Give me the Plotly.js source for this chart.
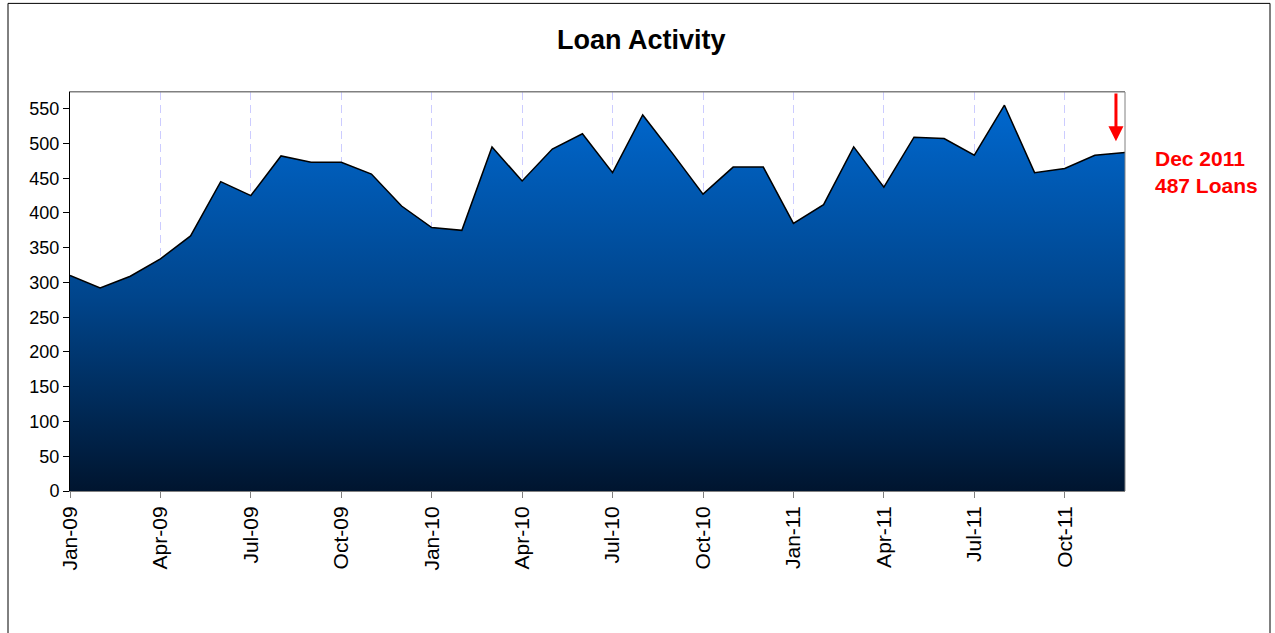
<!DOCTYPE html>
<html>
<head>
<meta charset="utf-8">
<script src="https://cdn.plot.ly/plotly-3.0.1.min.js"></script>
<style>
  html, body { margin: 0; padding: 0; background: #ffffff; }
  #chart { width: 1275px; height: 633px; }
</style>
</head>
<body>
<div id="chart"></div>
<script>
const months = [
  'Jan-09','Feb-09','Mar-09','Apr-09','May-09','Jun-09','Jul-09','Aug-09','Sep-09','Oct-09','Nov-09','Dec-09',
  'Jan-10','Feb-10','Mar-10','Apr-10','May-10','Jun-10','Jul-10','Aug-10','Sep-10','Oct-10','Nov-10','Dec-10',
  'Jan-11','Feb-11','Mar-11','Apr-11','May-11','Jun-11','Jul-11','Aug-11','Sep-11','Oct-11','Nov-11','Dec-11'
];
const loans = [
  310, 292, 309, 334, 367, 445, 425, 482, 473, 473, 456, 410,
  379, 375, 495, 446, 492, 514, 458, 541, 485, 427, 466, 466,
  385, 412, 495, 437, 509, 507, 483, 555, 458, 464, 483, 487
];
const tickLabels = ['Jan-09','Apr-09','Jul-09','Oct-09','Jan-10','Apr-10','Jul-10','Oct-10','Jan-11','Apr-11','Jul-11','Oct-11'];
const yTicks = [0,50,100,150,200,250,300,350,400,450,500,550];
const chartTitle = 'Loan Activity';
const calloutPeriod = 'Dec 2011';

const FONT = '"Liberation Sans", Arial, sans-serif';
const yMax = 574;
const lastIdx = loans.length - 1;
const lastVal = loans[lastIdx];

const trace = {
  type: 'scatter',
  mode: 'lines',
  x: months,
  y: loans,
  fill: 'tozeroy',
  fillgradient: {
    type: 'vertical',
    start: 0,
    stop: 560,
    colorscale: [[0, '#00152f'], [0.5, '#00458c'], [1, '#0068cf']]
  },
  line: { color: '#000000', width: 1.5 },
  hoverinfo: 'x+y',
  showlegend: false
};

const layout = {
  width: 1275,
  height: 633,
  paper_bgcolor: '#ffffff',
  plot_bgcolor: '#ffffff',
  margin: { l: 70, r: 150, t: 92, b: 142, pad: 0 },
  font: { family: FONT, color: '#000000', size: 18 },
  title: {
    text: '<b>' + chartTitle + '</b>',
    font: { family: FONT, size: 27, color: '#000000' },
    x: 0.503, xref: 'container', xanchor: 'center',
    y: 1 - 40 / 633, yref: 'container', yanchor: 'middle'
  },
  xaxis: {
    type: 'category',
    range: [0, lastIdx],
    tickmode: 'array',
    tickvals: tickLabels,
    ticktext: tickLabels,
    tickangle: -90,
    ticks: 'outside',
    ticklen: 6,
    tickcolor: '#808080',
    tickfont: { family: FONT, size: 21, color: '#000000' },
    showgrid: true,
    gridcolor: '#ccccff',
    griddash: '8px,5px',
    gridwidth: 1,
    showline: true,
    linecolor: '#808080',
    linewidth: 1,
    mirror: true,
    zeroline: false,
    fixedrange: true
  },
  yaxis: {
    range: [0, yMax],
    tickmode: 'array',
    tickvals: yTicks,
    ticktext: yTicks.map(String),
    ticks: 'outside',
    ticklen: 6,
    tickcolor: '#000000',
    tickfont: { family: FONT, size: 18, color: '#000000' },
    showgrid: false,
    showline: true,
    linecolor: '#000000',
    linewidth: 1,
    mirror: false,
    zeroline: false,
    fixedrange: true
  },
  shapes: [
    { type: 'line', xref: 'paper', yref: 'paper', x0: 0, x1: 1, y0: 1, y1: 1,
      line: { color: '#808080', width: 1 } },
    { type: 'line', xref: 'paper', yref: 'paper', x0: 1, x1: 1, y0: 0, y1: 1,
      line: { color: '#808080', width: 1 } },
    { type: 'rect', xref: 'paper', yref: 'paper',
      x0: (8 - 70) / 1055, x1: (1270 - 70) / 1055,
      y0: (491 - 660) / 398.5, y1: (491 - 4) / 398.5,
      line: { color: '#000000', width: 1 }, fillcolor: 'rgba(0,0,0,0)', layer: 'above' }
  ],
  annotations: [
    {
      x: lastIdx - 0.3, y: lastVal + 16,
      xref: 'x', yref: 'y',
      ax: lastIdx - 0.3, ay: yMax,
      axref: 'x', ayref: 'y',
      showarrow: true,
      arrowhead: 2,
      arrowsize: 1,
      arrowwidth: 3,
      arrowcolor: '#ff0000',
      text: ''
    },
    {
      xref: 'paper', yref: 'paper',
      x: (1153 - 70) / 1055, y: (491 - 172) / 398.5,
      xanchor: 'left', yanchor: 'middle',
      align: 'left',
      showarrow: false,
      text: '<b>' + calloutPeriod + '<br>' + lastVal + ' Loans</b>',
      font: { family: FONT, size: 21, color: '#ff0000' }
    }
  ]
};

Plotly.newPlot('chart', [trace], layout, { displayModeBar: false, staticPlot: true });
</script>
</body>
</html>
